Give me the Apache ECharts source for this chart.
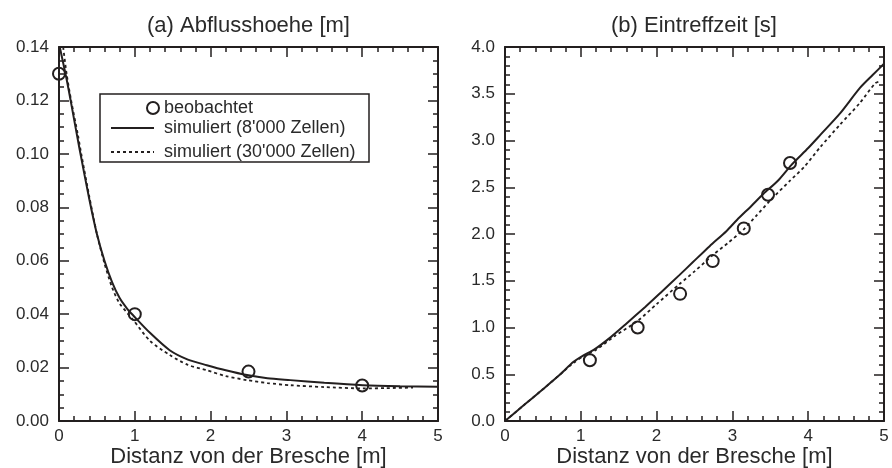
<!DOCTYPE html>
<html>
<head>
<meta charset="utf-8">
<script src="https://cdn.jsdelivr.net/npm/echarts@6/dist/echarts.min.js"></script>
<style>
html,body{margin:0;padding:0;background:#fff;}
#chart{width:892px;height:468px;}
</style>
</head>
<body>
<div id="chart"></div>
<script>
// ---------- Data ----------
const titles = ['(a) Abflusshoehe [m]', '(b) Eintreffzeit [s]'];
const xAxisName = 'Distanz von der Bresche [m]';
const seriesNames = ['beobachtet', "simuliert (8'000 Zellen)", "simuliert (30'000 Zellen)"];

// (a) Abflusshoehe
const obsA_x = [0, 1.0, 2.5, 4.0];
const obsA_y = [0.130, 0.040, 0.0185, 0.0133];
const sim8kA_x = [0.01, 0.1, 0.16, 0.27, 0.4, 0.5, 0.6, 0.7, 0.8, 0.9, 0.98, 1.2, 1.46, 1.7, 1.95, 2.2, 2.48, 2.75, 3.05, 3.5, 4.01, 4.5, 5.0];
const sim8kA_y = [0.140, 0.128, 0.119, 0.102, 0.083, 0.070, 0.060, 0.052, 0.046, 0.042, 0.0395, 0.033, 0.0265, 0.023, 0.0209, 0.019, 0.0172, 0.016, 0.0153, 0.0143, 0.0134, 0.013, 0.0128];
const sim30kA_x = [0.055, 0.1, 0.16, 0.25, 0.3, 0.4, 0.5, 0.6, 0.7, 0.8, 0.98, 1.2, 1.46, 1.7, 1.95, 2.2, 2.48, 2.75, 3.05, 3.5, 4.01, 4.3, 4.67];
const sim30kA_y = [0.140, 0.130, 0.120, 0.107, 0.099, 0.084, 0.070, 0.059, 0.050, 0.044, 0.0378, 0.030, 0.0247, 0.021, 0.019, 0.0168, 0.0153, 0.0142, 0.0134, 0.0127, 0.0122, 0.0123, 0.0125];

// (b) Eintreffzeit
const obsB_x = [1.12, 1.75, 2.31, 2.74, 3.15, 3.47, 3.76];
const obsB_y = [0.65, 1.00, 1.36, 1.71, 2.06, 2.42, 2.76];
const sim8kB_x = [0, 0.25, 0.5, 0.73, 0.9, 1.03, 1.17, 1.4, 1.6, 1.85, 2.05, 2.3, 2.48, 2.7, 2.92, 3.06, 3.25, 3.41, 3.6, 3.78, 4.0, 4.16, 4.42, 4.68, 4.85, 5.0];
const sim8kB_y = [0, 0.17, 0.34, 0.50, 0.63, 0.70, 0.76, 0.90, 1.04, 1.22, 1.37, 1.56, 1.70, 1.87, 2.03, 2.15, 2.30, 2.43, 2.57, 2.74, 2.92, 3.06, 3.29, 3.56, 3.70, 3.82];
const sim30kB_x = [0, 0.25, 0.5, 0.73, 0.9, 1.03, 1.2, 1.45, 1.75, 2.0, 2.31, 2.5, 2.75, 2.95, 3.15, 3.32, 3.5, 3.76, 3.95, 4.16, 4.42, 4.68, 4.88, 4.93];
const sim30kB_y = [0, 0.17, 0.34, 0.50, 0.62, 0.69, 0.76, 0.91, 1.07, 1.25, 1.47, 1.60, 1.78, 1.91, 2.05, 2.20, 2.36, 2.57, 2.72, 2.93, 3.17, 3.40, 3.61, 3.63];

// Axis settings (values)
const xMin = 0, xMax = 5, xInterval = 1, xMinorInterval = 0.2;
const yA_min = 0, yA_max = 0.14, yA_interval = 0.02, yA_minorInterval = 0.005;
const yB_min = 0, yB_max = 4, yB_interval = 0.5, yB_minorInterval = 0.1;

// ---------- Styling ----------
const INK = '#231f1f';
const TXT = '#2a2a2a';
const FONT = 'Liberation Sans, Arial, sans-serif';
const zip = (xs, ys) => xs.map((x, i) => [x, ys[i]]);

// major axis (with line + labels on bottom/left)
function xAxisCfg(gridIndex, top) {
  return {
    type: 'value', gridIndex, position: top ? 'top' : 'bottom',
    min: xMin, max: xMax, interval: xInterval,
    name: top ? '' : xAxisName, nameLocation: 'middle', nameGap: 25, nameMoveOverlap: false,
    nameTextStyle: { fontSize: 22, color: TXT, fontFamily: FONT },
    axisLine: { show: true, onZero: false, lineStyle: { color: INK, width: 2 } },
    axisTick: { show: true, inside: true, length: 10, lineStyle: { color: INK, width: 1.5 } },
    splitLine: { show: false },
    axisLabel: { show: !top, fontSize: 17, color: TXT, fontFamily: FONT, margin: 7 },
    z: 6
  };
}
// minor tick axis (ticks only)
function xMinorCfg(gridIndex, top) {
  return {
    type: 'value', gridIndex, position: top ? 'top' : 'bottom',
    min: xMin, max: xMax, interval: xMinorInterval,
    axisLine: { show: false, onZero: false },
    axisTick: { show: true, inside: true, length: 5, lineStyle: { color: INK, width: 1.5 } },
    splitLine: { show: false }, axisLabel: { show: false }, z: 6
  };
}
function yAxisCfg(gridIndex, right, min, max, interval, digits) {
  return {
    type: 'value', gridIndex, position: right ? 'right' : 'left',
    min, max, interval,
    axisLine: { show: true, onZero: false, lineStyle: { color: INK, width: 2 } },
    axisTick: { show: true, inside: true, length: 10, lineStyle: { color: INK, width: 1.5 } },
    splitLine: { show: false },
    axisLabel: { show: !right, fontSize: 17, color: TXT, fontFamily: FONT, margin: 10,
      formatter: v => v.toFixed(digits) },
    z: 6
  };
}
function yMinorCfg(gridIndex, right, min, max, interval) {
  return {
    type: 'value', gridIndex, position: right ? 'right' : 'left',
    min, max, interval,
    axisLine: { show: false, onZero: false },
    axisTick: { show: true, inside: true, length: 5, lineStyle: { color: INK, width: 1.5 } },
    splitLine: { show: false }, axisLabel: { show: false }, z: 6
  };
}

const circleStyle = { color: 'rgba(255,255,255,0)', borderColor: INK, borderWidth: 2, opacity: 1 };
function scatter(name, xi, yi, data) {
  return { name, type: 'scatter', xAxisIndex: xi, yAxisIndex: yi, data,
    symbol: 'circle', symbolSize: 12, itemStyle: circleStyle, z: 5, clip: false };
}
function line(name, xi, yi, data, dashed) {
  return { name, type: 'line', xAxisIndex: xi, yAxisIndex: yi, data,
    showSymbol: false, symbol: 'none', smooth: 0.25, clip: true,
    lineStyle: { color: INK, width: dashed ? 1.8 : 2, type: dashed ? [3, 3] : 'solid' },
    itemStyle: { color: INK } };
}

const legendText = { fontSize: 18, color: TXT, fontFamily: FONT };
const hiddenSymbol = { color: 'rgba(0,0,0,0)', borderColor: 'rgba(0,0,0,0)', borderWidth: 0 };

const option = {
  backgroundColor: '#ffffff',
  animation: false,
  title: [
    { text: titles[0], left: 147, top: 15, padding: 0,
      textStyle: { fontSize: 22, fontWeight: 'normal', color: TXT, fontFamily: FONT } },
    { text: titles[1], left: 611, top: 15, padding: 0,
      textStyle: { fontSize: 22, fontWeight: 'normal', color: TXT, fontFamily: FONT } }
  ],
  grid: [
    { left: 59, top: 47, width: 379, height: 374, outerBoundsMode: 'none', containLabel: false },
    { left: 505, top: 47, width: 379, height: 374, outerBoundsMode: 'none', containLabel: false }
  ],
  // 0..3 grid 0 ; 4..7 grid 1
  xAxis: [
    xAxisCfg(0, false), xAxisCfg(0, true), xMinorCfg(0, false), xMinorCfg(0, true),
    xAxisCfg(1, false), xAxisCfg(1, true), xMinorCfg(1, false), xMinorCfg(1, true)
  ],
  yAxis: [
    yAxisCfg(0, false, yA_min, yA_max, yA_interval, 2),
    yAxisCfg(0, true, yA_min, yA_max, yA_interval, 2),
    yMinorCfg(0, false, yA_min, yA_max, yA_minorInterval),
    yMinorCfg(0, true, yA_min, yA_max, yA_minorInterval),
    yAxisCfg(1, false, yB_min, yB_max, yB_interval, 1),
    yAxisCfg(1, true, yB_min, yB_max, yB_interval, 1),
    yMinorCfg(1, false, yB_min, yB_max, yB_minorInterval),
    yMinorCfg(1, true, yB_min, yB_max, yB_minorInterval)
  ],
  legend: [
    { data: [{ name: seriesNames[0], icon: 'circle' }], left: 146, top: 99, padding: 0,
      itemWidth: 12, itemHeight: 12, selectedMode: false, textStyle: legendText },
    { data: [seriesNames[1]], left: 110, top: 119, padding: 0,
      itemWidth: 43, itemHeight: 14, selectedMode: false, itemStyle: hiddenSymbol,
      textStyle: Object.assign({ padding: [0, 0, 0, 5] }, legendText) },
    { data: [seriesNames[2]], left: 110, top: 143, padding: 0,
      itemWidth: 43, itemHeight: 14, selectedMode: false, itemStyle: hiddenSymbol,
      textStyle: Object.assign({ padding: [0, 0, 0, 5] }, legendText) }
  ],
  graphic: [
    { type: 'rect', shape: { x: 100, y: 94, width: 269, height: 68 },
      style: { fill: 'transparent', stroke: INK, lineWidth: 1.5 }, z: 10, silent: true }
  ],
  series: [
    line(seriesNames[1], 0, 0, zip(sim8kA_x, sim8kA_y), false),
    line(seriesNames[2], 0, 0, zip(sim30kA_x, sim30kA_y), true),
    scatter(seriesNames[0], 0, 0, zip(obsA_x, obsA_y)),
    line(seriesNames[1], 4, 4, zip(sim8kB_x, sim8kB_y), false),
    line(seriesNames[2], 4, 4, zip(sim30kB_x, sim30kB_y), true),
    scatter(seriesNames[0], 4, 4, zip(obsB_x, obsB_y))
  ]
};

const chart = echarts.init(document.getElementById('chart'), null, { renderer: 'canvas' });
chart.setOption(option);
</script>
</body>
</html>
